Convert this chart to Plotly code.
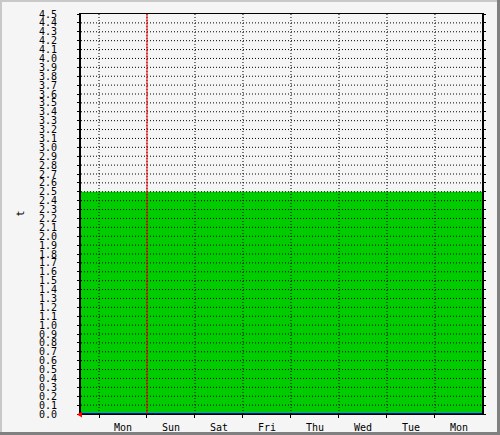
import numpy as np
import plotly.graph_objects as go

# rrdtool-style weekly graph, most recent day on the left
day_labels = ["Mon", "Sun", "Sat", "Fri", "Thu", "Wed", "Tue", "Mon"]
day_edges = [0, 1, 2, 3, 4, 5, 6, 7]

# samples (time in days from the first day boundary)
sample_days = [-0.375, 7.98]
level_values = [2.5, 2.5]       # green area
base_values = [0.0, 0.0]        # blue line
marker_day = 1                  # red vertical rule

y_ticks = np.round(np.arange(0, 4.51, 0.1), 1)

W, H = 500, 435
L, R, T, B = 81, 18, 14, 21
PW, PH = W - L - R, H - T - B


def px(x):
    return (x - L) / PW


def py(y):
    return (H - B - y) / PH


FONT = "DejaVu Sans Mono"
DOT = "1px,2px"

fig = go.Figure()
fig.add_trace(go.Scatter(
    x=sample_days, y=level_values, mode="lines", line=dict(width=0, shape="hv"),
    fill="tozeroy", fillcolor="#00cc00", hoverinfo="skip"))
fig.add_trace(go.Scatter(
    x=sample_days, y=base_values, mode="lines",
    line=dict(color="#0000ff", width=2), hoverinfo="skip"))

shapes = []
for v in y_ticks[1:-1]:
    shapes.append(dict(type="line", xref="paper", yref="y", x0=0, x1=1, y0=v, y1=v,
                       line=dict(color="black", width=1, dash=DOT), layer="above"))
for d in day_edges:
    shapes.append(dict(type="line", xref="x", yref="paper", x0=d, x1=d, y0=0, y1=1,
                       line=dict(color="black", width=1, dash=DOT), layer="above"))
shapes.append(dict(type="line", xref="x", yref="paper", x0=marker_day, x1=marker_day,
                   y0=0, y1=1, line=dict(color="#ee0000", width=1), layer="above"))
# red arrow at the origin
shapes.append(dict(type="path", xref="paper", yref="paper", layer="above",
                   path=f"M {px(77)},{py(414.5)} L {px(82)},{py(411.5)} L {px(82)},{py(417.5)} Z",
                   fillcolor="#ff0000", line=dict(width=0)))
# 3D frame
shapes += [
    dict(type="rect", xref="paper", yref="paper", x0=px(0), x1=px(W), y0=py(0), y1=py(2),
         fillcolor="#c8c8c8", line=dict(width=0), layer="above"),
    dict(type="rect", xref="paper", yref="paper", x0=px(0), x1=px(2), y0=py(0), y1=py(H),
         fillcolor="#c8c8c8", line=dict(width=0), layer="above"),
    dict(type="rect", xref="paper", yref="paper", x0=px(0), x1=px(W), y0=py(432), y1=py(H),
         fillcolor="#808080", line=dict(width=0), layer="above"),
    dict(type="rect", xref="paper", yref="paper", x0=px(497), x1=px(W), y0=py(0), y1=py(H),
         fillcolor="#808080", line=dict(width=0), layer="above"),
]

fig.update_layout(
    width=W, height=H,
    margin=dict(l=L, r=R, t=T, b=B, pad=0),
    paper_bgcolor="#f5f5f5", plot_bgcolor="#f5f5f5",
    showlegend=False,
    font=dict(family=FONT, size=10, color="black"),
    shapes=shapes,
    annotations=[dict(text="t", xref="paper", yref="paper", x=px(12), y=0.5,
                      textangle=-90, showarrow=False, font=dict(family=FONT, size=10))],
    xaxis=dict(
        range=[sample_days[0], sample_days[-1]],
        tickvals=[d + 0.5 for d in day_edges], ticktext=day_labels,
        ticks="", showgrid=False, zeroline=False,
        ticklabelstandoff=4, automargin=False,
        showline=True, linecolor="black", linewidth=1, mirror=True,
        layer="below traces",
        minor=dict(tickmode="array", tickvals=day_edges, ticks="outside",
                   ticklen=3, tickcolor="black", tickwidth=1, showgrid=False),
        fixedrange=True,
    ),
    yaxis=dict(
        range=[0, 4.5], tickvals=y_ticks, tickformat=".1f",
        ticks="outside", ticklen=2, tickcolor="black", tickwidth=1,
        ticklabelstandoff=18, automargin=False,
        showgrid=False, zeroline=False,
        showline=True, linecolor="black", linewidth=2, mirror="ticks",
        layer="above traces", fixedrange=True,
    ),
)

fig.write_html("out.html", config={"displayModeBar": False},
               post_script="document.body.style.margin='0';document.body.style.overflow='hidden';")
